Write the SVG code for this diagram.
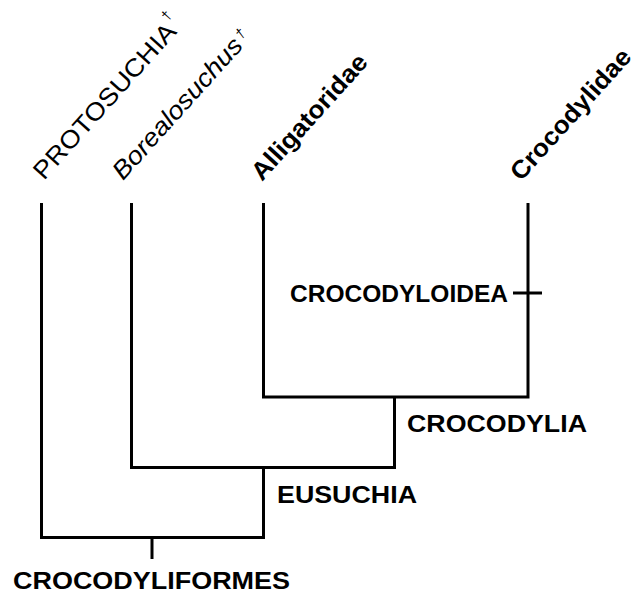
<svg xmlns="http://www.w3.org/2000/svg" width="637" height="596" viewBox="0 0 637 596">
<style>
.ln{fill:none;stroke:#000;stroke-width:3;stroke-linejoin:miter;stroke-linecap:butt}
.t{font-family:"Liberation Sans",Arial,sans-serif;fill:#000}
.b{font-weight:bold}
.h{font-size:24px;font-weight:bold}
.r{font-size:25px}
.dg{font-size:14px}
</style>
<rect width="637" height="596" fill="#fff"/>
<g id="connectors">
<path class="ln" d="M41.5,203 V537.5 H263.5 V467"/>
<path class="ln" d="M131.5,203 V467.5 H394.5 V397"/>
<path class="ln" d="M263.5,203 V397 H528 V203"/>
<path class="ln" d="M152,537 V559"/>
<path class="ln" d="M513,293 H542"/>
</g>
<g id="protosuchia" transform="translate(44 181) rotate(-48)">
<text class="t r" x="0" y="0" textLength="200" lengthAdjust="spacingAndGlyphs">PROTOSUCHIA</text>
<text class="t dg" x="201" y="-15">†</text>
</g>
<g id="borealosuchus" transform="translate(123 181) rotate(-48)">
<text class="t r" font-style="italic" x="0" y="0" textLength="181" lengthAdjust="spacingAndGlyphs">Borealosuchus</text>
<text class="t dg" font-style="italic" x="184" y="-7">†</text>
</g>
<g id="alligatoridae" transform="translate(262 182) rotate(-48)">
<text class="t r b" x="0" y="0" textLength="160" lengthAdjust="spacingAndGlyphs">Alligatoridae</text>
</g>
<g id="crocodylidae" transform="translate(521 182) rotate(-48)">
<text class="t r b" x="0" y="0" textLength="167" lengthAdjust="spacingAndGlyphs">Crocodylidae</text>
</g>
<g id="crocodyloidea">
<text class="t h" x="290" y="302" textLength="218" lengthAdjust="spacingAndGlyphs">CROCODYLOIDEA</text>
</g>
<g id="crocodylia">
<text class="t h" x="407" y="432" textLength="180" lengthAdjust="spacingAndGlyphs">CROCODYLIA</text>
</g>
<g id="eusuchia">
<text class="t h" x="277" y="503" textLength="140" lengthAdjust="spacingAndGlyphs">EUSUCHIA</text>
</g>
<g id="crocodyliformes">
<text class="t h" x="13" y="589" textLength="277" lengthAdjust="spacingAndGlyphs">CROCODYLIFORMES</text>
</g>
</svg>
